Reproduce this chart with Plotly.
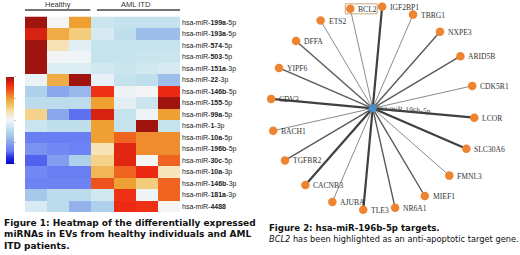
import math
import plotly.graph_objects as go

# ---------------- Heatmap data ----------------
groups = ["Healthy", "AML ITD"]
samples = ["H1", "H2", "H3", "A1", "A2", "A3", "A4"]
mir_ids = ["199a", "193a", "574", "503", "151a", "22", "146b", "155", "99a",
           "1", "10a", "196b", "30c", "10a", "146b", "181a", "4488"]
mir_arms = ["5p", "5p", "5p", "5p", "3p", "3p", "5p", "5p", "5p",
            "3p", "5p", "5p", "5p", "3p", "3p", "3p", ""]
zscores = [
    [2.0, 0.05, 1.0, -0.3, -0.35, -0.35, -0.35],
    [1.75, 0.9, 0.6, -0.2, -0.4, -0.8, -0.8],
    [2.0, 0.4, -0.12, -0.35, -0.35, -0.35, -0.35],
    [2.0, 0.02, 0.0, -0.35, -0.35, -0.3, -0.3],
    [2.0, -0.15, -0.15, -0.25, -0.3, -0.25, -0.2],
    [-0.05, 0.9, 2.0, -0.08, -0.35, -0.4, -0.8],
    [-0.6, -1.0, -0.85, 1.6, -0.02, 0.05, 1.65],
    [-0.45, -0.45, -0.45, 1.0, -0.1, -0.3, 2.0],
    [0.55, -1.0, -1.45, 1.75, -0.35, 0.0, 1.0],
    [-0.3, -0.4, -0.4, 1.0, -0.35, 2.0, -0.35],
    [-1.4, -1.4, -1.4, 1.0, 1.3, 1.1, 1.1],
    [-1.2, -1.3, -1.35, 0.4, 1.7, 1.1, 1.1],
    [-1.5, -1.1, -0.6, 0.55, 1.7, 0.05, 1.3],
    [-1.3, -1.4, -1.4, 0.8, 1.3, 1.65, 0.35],
    [-1.35, -1.35, -1.35, 1.4, 1.0, 0.6, 1.3],
    [-0.7, -0.45, -0.45, -0.25, 1.6, 0.0, 1.3],
    [-0.2, -0.45, -0.9, -0.6, 1.65, 1.6, 0.05],
]

# ---------------- Network data ----------------
center_mirna = "hsa-miR-196b-5p"
targets = ["BCL2", "IGF2BP1", "TBRG1", "NXPE3", "ARID5B", "CDK5R1", "LCOR",
           "SLC30A6", "FMNL3", "MIEF1", "NR6A1", "TLE3", "AJUBA", "CACNB3",
           "TGFBR2", "BACH1", "CDV3", "YIPF6", "DFFA", "ETS2"]
edge_weight = [1, 3, 1, 2, 2, 1, 3, 3, 1, 2, 2, 3, 1, 3, 2, 1, 3, 2, 2, 1]
highlighted = "BCL2"

row_labels = [f"hsa-miR-<b>{m}</b>" + (f"-{a}" if a else "") for m, a in zip(mir_ids, mir_arms)]

W, H = 520, 255
colorscale = [
    [0.0, "#0a0ac8"], [0.08, "#2430e0"], [0.15, "#6a7ef4"], [0.25, "#8aa6ec"],
    [0.325, "#a6c8ea"], [0.41, "#c4e2ec"], [0.46, "#dcecf4"], [0.51, "#f4f6f6"],
    [0.6, "#f6e2b4"], [0.65, "#f3cc7c"], [0.75, "#eea032"], [0.825, "#f06422"],
    [0.91, "#ee2a12"], [1.0, "#a01410"],
]

fig = go.Figure()
fig.add_trace(go.Heatmap(
    z=zscores, x=list(range(len(samples))), y=list(range(len(row_labels))),
    zmin=-2, zmax=2, colorscale=colorscale, xaxis="x", yaxis="y",
    xgap=0, ygap=0,
    colorbar=dict(x=5.7 / W, xanchor="left", xpad=0, ypad=0, thickness=8,
                  y=1 - 120.3 / H, yanchor="middle", len=87 / H, lenmode="fraction",
                  outlinewidth=0, ticks="outside", ticklen=2, tickcolor="#c8c8c8",
                  showticklabels=False),
))

# ---------------- Network ----------------
R = 102.0
start_angle = 102.7
n = len(targets)
tx, ty = [], []
for i in range(n):
    a = math.radians(start_angle - 360.0 * i / n)
    tx.append(R * math.cos(a))
    ty.append(R * math.sin(a))

wstyle = {1: ("#8c8c8c", 1.0), 2: ("#5a5a5a", 1.4), 3: ("#404040", 2.2)}
for x, y, w in zip(tx, ty, edge_weight):
    col, lw = wstyle[w]
    fig.add_trace(go.Scatter(x=[0, x], y=[0, y], mode="lines", xaxis="x2", yaxis="y2",
                             line=dict(color=col, width=lw), hoverinfo="skip", showlegend=False))
fig.add_trace(go.Scatter(x=tx, y=ty, mode="markers", xaxis="x2", yaxis="y2",
                         marker=dict(size=8.5, color="#ee8430", line=dict(width=0)),
                         text=targets, hoverinfo="text", showlegend=False))
fig.add_trace(go.Scatter(x=[0], y=[0], mode="markers", xaxis="x2", yaxis="y2",
                         marker=dict(size=8, color="#4a8cc8", line=dict(width=0)),
                         hoverinfo="skip", showlegend=False))

annotations = []
for x, y, name in zip(tx, ty, targets):
    annotations.append(dict(x=x, y=y, xref="x2", yref="y2", text=name, showarrow=False,
                            xanchor="left", yanchor="middle", xshift=6, yshift=-0.5,
                            font=dict(family="Liberation Serif", size=7.6, color="#333333")))
    if name == highlighted:
        fig.add_shape(type="rect", xref="x2", yref="y2", x0=x - 5, x1=x + 27,
                      y0=y - 5, y1=y + 5, line=dict(color="#c9a87a", width=1))
annotations.append(dict(x=0, y=0, xref="x2", yref="y2", text=center_mirna, showarrow=False,
                        xanchor="center", yanchor="middle", xshift=31, yshift=-1.5, textangle=4,
                        font=dict(family="Liberation Serif", size=7.6, color="#444444")))

# Group headers
hdr_y = 1 - 4.5 / H
line_y = 1 - 10 / H
annotations.append(dict(x=1, y=hdr_y, xref="x", yref="paper", text=groups[0], showarrow=False,
                        xanchor="center", yanchor="middle",
                        font=dict(family="Liberation Sans", size=7.5, color="#333333")))
annotations.append(dict(x=4.5, y=hdr_y, xref="x", yref="paper", text=groups[1], showarrow=False,
                        xanchor="center", yanchor="middle",
                        font=dict(family="Liberation Sans", size=7.5, color="#333333")))
fig.add_shape(type="line", xref="x", yref="paper", x0=-0.5, x1=2.45, y0=line_y, y1=line_y,
              line=dict(color="#444444", width=1.3))
fig.add_shape(type="line", xref="x", yref="paper", x0=2.75, x1=6.5, y0=line_y, y1=line_y,
              line=dict(color="#444444", width=1.3))

# Captions
cap1 = ["Figure 1: Heatmap of the differentially expressed",
        "miRNAs in EVs from healthy individuals and AML",
        "ITD patients."]
for k, line in enumerate(cap1):
    annotations.append(dict(x=1.5 / W, y=1 - (222.5 + 11.5 * k) / H, xref="paper", yref="paper",
                            text=f"<b>{line}</b>", showarrow=False, xanchor="left",
                            yanchor="middle",
                            font=dict(family="DejaVu Sans", size=9.0, color="#111111")))
annotations.append(dict(x=267 / W, y=1 - 228 / H, xref="paper", yref="paper",
                        text="<b>Figure 2: hsa-miR-196b-5p targets.</b>", showarrow=False,
                        xanchor="left", yanchor="middle",
                        font=dict(family="DejaVu Sans", size=8.6, color="#111111")))
annotations.append(dict(x=267 / W, y=1 - 239 / H, xref="paper", yref="paper",
                        text="<i>BCL2</i> has been highlighted as an anti-apoptotic target gene.",
                        showarrow=False, xanchor="left", yanchor="middle",
                        font=dict(family="DejaVu Sans", size=8.25, color="#111111")))

fig.update_layout(
    width=W, height=H, margin=dict(l=0, r=0, t=0, b=0),
    paper_bgcolor="white", plot_bgcolor="white", showlegend=False,
    xaxis=dict(domain=[25 / W, 180 / W], range=[-0.5, 6.5], showticklabels=False,
               showgrid=False, zeroline=False, ticks=""),
    yaxis=dict(domain=[1 - 212 / H, 1 - 16.5 / H], range=[16.5, -0.5], side="right",
               tickmode="array", tickvals=list(range(len(row_labels))), ticktext=row_labels,
               tickfont=dict(family="Liberation Sans", size=7, color="#222222"),
               showgrid=False, zeroline=False, ticks="", ticklabelstandoff=1),
    xaxis2=dict(domain=[250 / W, 1.0], range=[-122.7, 147.3], visible=False, fixedrange=True),
    yaxis2=dict(domain=[0, 1], range=[-146.7, 108.3], visible=False, anchor="x2", fixedrange=True),
    annotations=annotations,
)

fig.write_html("out.html", config={"displayModeBar": False},
               post_script="document.body.style.margin='0px';")
